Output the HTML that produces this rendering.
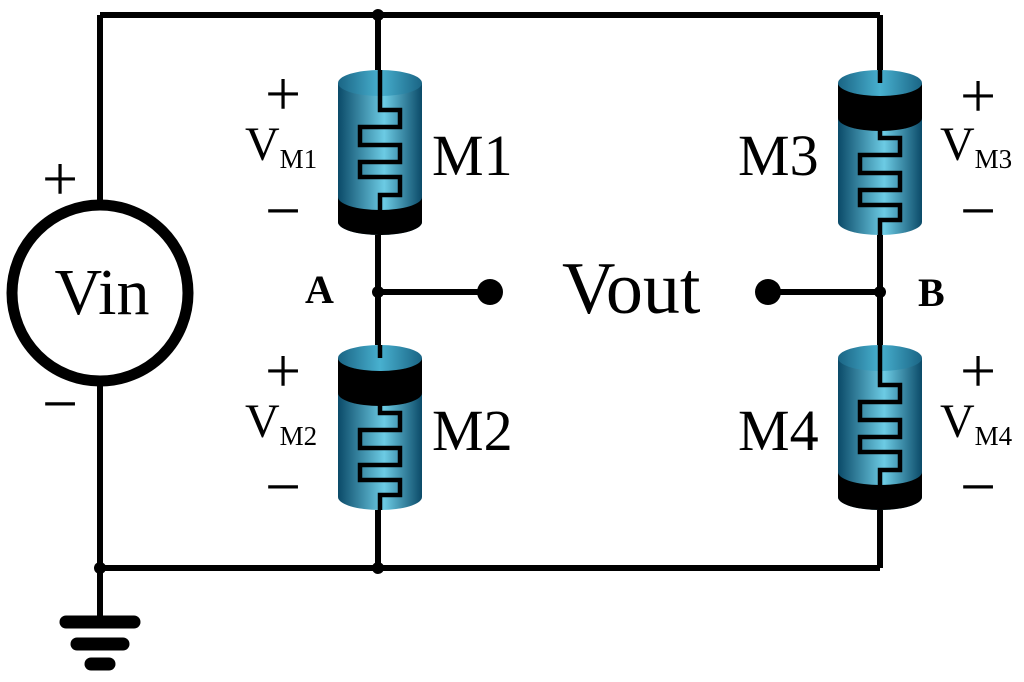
<!DOCTYPE html>
<html><head><style>html,body{margin:0;padding:0;background:#fff}svg{display:block}</style></head><body>
<svg width="1024" height="682" viewBox="0 0 1024 682" xmlns="http://www.w3.org/2000/svg" font-family="Liberation Serif, serif">
<defs>
<linearGradient id="body" x1="0" x2="1" y1="0" y2="0">
<stop offset="0" stop-color="#0b4a68"/><stop offset="0.55" stop-color="#6ccbe4"/><stop offset="1" stop-color="#0b4a68"/>
</linearGradient>
<linearGradient id="top" x1="0" x2="1" y1="0" y2="0">
<stop offset="0" stop-color="#1a6585"/><stop offset="0.5" stop-color="#48b0cf"/><stop offset="1" stop-color="#1a6585"/>
</linearGradient>
<g id="memB">
<path d="M0 13 V152 A42 13 0 0 0 84 152 V13 Z" fill="url(#body)"/>
<path d="M0 127 V152 A42 13 0 0 0 84 152 V127 A42 13 0 0 1 0 127 Z" fill="#000"/>
<ellipse cx="42" cy="13" rx="42" ry="13" fill="url(#top)"/>
<path d="M42 0 V40 H62 V57 H22 V75 H62 V92 H22 V107 H62 V125 H42 V165" fill="none" stroke="#000" stroke-width="4.5"/>
</g>
<g id="memT">
<path d="M0 13 V152 A42 13 0 0 0 84 152 V13 Z" fill="url(#body)"/>
<path d="M0 13 V48 A42 13 0 0 0 84 48 V13 Z" fill="#000"/>
<ellipse cx="42" cy="13" rx="42" ry="13" fill="url(#top)"/>
<path d="M42 0 V13 M42 55 V68 H62 V85 H22 V103 H62 V120 H22 V135 H62 V150 H42 V165" fill="none" stroke="#000" stroke-width="4.5"/>
</g>
</defs>
<g stroke="#000" stroke-width="6" fill="none">
<path d="M100 15 H880 M100 15 V201 M100 385 V568 H880 M100 568 V622"/>
<path d="M378 15 V70 M378 235 V345 M378 510 V568"/>
<path d="M880 15 V70 M880 235 V345 M880 510 V568"/>
<path d="M378 292 H490 M768 292 H880"/>
</g>
<circle cx="100" cy="293" r="88" fill="none" stroke="#000" stroke-width="11"/>
<g stroke="#000" stroke-width="13" stroke-linecap="round">
<line x1="66" y1="622" x2="134" y2="622"/><line x1="77" y1="644" x2="123" y2="644"/><line x1="91" y1="664" x2="109" y2="664"/>
</g>
<g fill="#000">
<circle cx="378" cy="15" r="6"/><circle cx="378" cy="292" r="6"/><circle cx="378" cy="568" r="6"/>
<circle cx="100" cy="568" r="6"/><circle cx="880" cy="292" r="6"/>
<circle cx="490" cy="292" r="13"/><circle cx="768" cy="292" r="13"/>
</g>
<use href="#memB" x="338" y="70"/>
<use href="#memT" x="338" y="345"/>
<use href="#memT" x="838" y="70"/>
<use href="#memB" x="838" y="345"/>
<g fill="#000">
<text x="102" y="314" font-size="66" text-anchor="middle">Vin</text>
<text x="432" y="175" font-size="58">M1</text>
<text x="432" y="450" font-size="58">M2</text>
<text x="738" y="175" font-size="58">M3</text>
<text x="738" y="450" font-size="58">M4</text>
<text x="562" y="313" font-size="74">Vout</text>
<text x="305" y="303" font-size="40" font-weight="bold">A</text>
<text x="918" y="306" font-size="40" font-weight="bold">B</text>
<g font-size="64" text-anchor="middle">
<text x="60" y="200">+</text><text x="60" y="425">−</text>
<text x="283" y="115">+</text><text x="283" y="232">−</text>
<text x="283" y="392">+</text><text x="283" y="508">−</text>
<text x="978" y="117">+</text><text x="978" y="232">−</text>
<text x="978" y="392">+</text><text x="978" y="508">−</text>
</g>
<text x="245" y="160" font-size="48">V<tspan font-size="27" dy="8">M1</tspan></text>
<text x="245" y="437" font-size="48">V<tspan font-size="27" dy="8">M2</tspan></text>
<text x="940" y="160" font-size="48">V<tspan font-size="27" dy="8">M3</tspan></text>
<text x="940" y="437" font-size="48">V<tspan font-size="27" dy="8">M4</tspan></text>
</g>
</svg>
</body></html>
